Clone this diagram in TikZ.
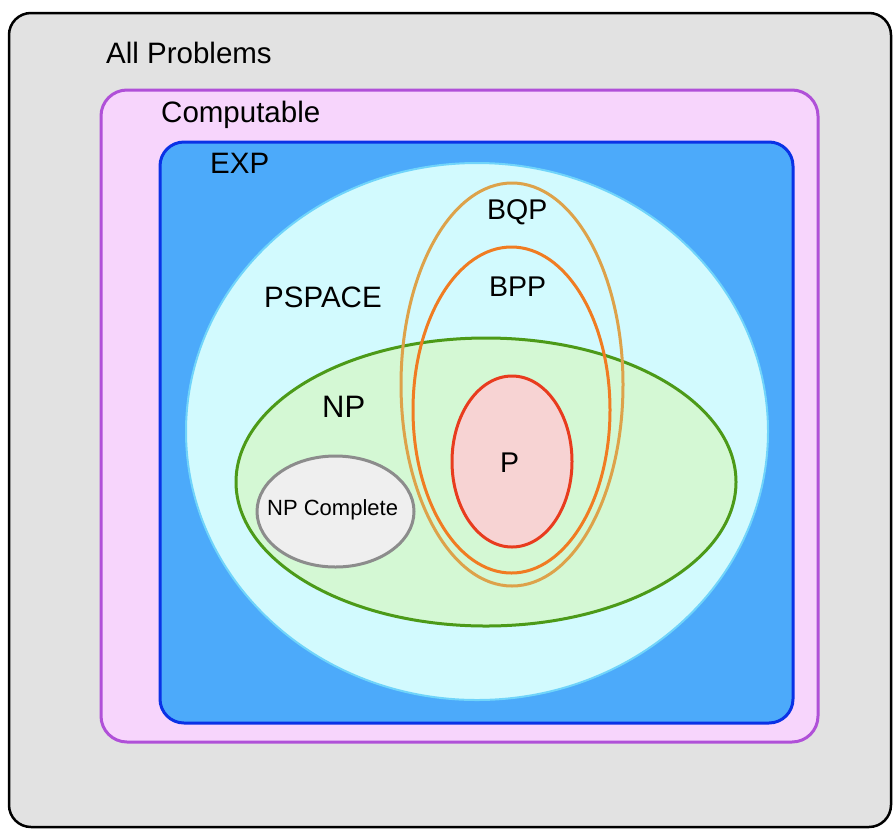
\documentclass[tikz,border=0pt]{standalone}
\usepackage{fontspec}
\setmainfont{Liberation Sans}
\definecolor{allfill}{HTML}{E2E2E2}
\definecolor{compfill}{HTML}{F7D5FC}
\definecolor{compline}{HTML}{B050D8}
\definecolor{expfill}{HTML}{4CAAFA}
\definecolor{expline}{HTML}{0A32E6}
\definecolor{pspfill}{HTML}{D2FAFE}
\definecolor{pspline}{HTML}{70D4FA}
\definecolor{npfill}{HTML}{D4F8D4}
\definecolor{npline}{HTML}{4C9A18}
\definecolor{npcfill}{HTML}{EFEFEF}
\definecolor{npcline}{HTML}{8C8C8C}
\definecolor{pfill}{HTML}{F7D3D3}
\definecolor{pline}{HTML}{E83C1E}
\definecolor{bppline}{HTML}{F07C22}
\definecolor{bqpline}{HTML}{DDA24A}

\begin{document}
\begin{tikzpicture}[x=1pt,y=-1pt,
    txt/.style={anchor=base west,inner sep=0pt,font=\fontsize{29.5}{34}\selectfont},
    zone/.style={line width=3pt}]
  \useasboundingbox (0,0) rectangle (893,828);
  % boxes
  \filldraw[fill=allfill,draw=black,line width=2.5pt,rounded corners=22pt] (9,13) rectangle (891,827);
  \filldraw[zone,fill=compfill,draw=compline,rounded corners=26pt] (101,90) rectangle (818,742);
  \filldraw[zone,fill=expfill,draw=expline,rounded corners=24pt] (160,142) rectangle (793,723);
  % ellipses
  \filldraw[fill=pspfill,draw=pspline,line width=2pt] (477,431.5) ellipse [x radius=291,y radius=268.5];
  \filldraw[zone,fill=npfill,draw=npline] (486,482) ellipse [x radius=250,y radius=144];
  \filldraw[zone,fill=npcfill,draw=npcline] (335.5,511.5) ellipse [x radius=78.5,y radius=55.5];
  \draw[zone,draw=bqpline] (512,384.5) ellipse [x radius=111,y radius=201.5];
  \draw[zone,draw=bppline] (511.5,410) ellipse [x radius=98.5,y radius=163];
  \filldraw[zone,fill=pfill,draw=pline] (512,461.5) ellipse [x radius=60,y radius=85.5];
  % labels
  \node[txt] (allname) at (106,63) {All Problems};
  \node[txt] (compname) at (161,122) {Computable};
  \node[txt] (expname) at (210,173) {EXP};
  \node[txt] (pspname) at (264,307) {PSPACE};
  \node[txt,font=\fontsize{31}{36}\selectfont] (npname) at (322,417) {NP};
  \node[txt,font=\fontsize{28.5}{34}\selectfont] (bqpname) at (487,219) {BQP};
  \node[txt,font=\fontsize{28.5}{34}\selectfont] (bppname) at (489,296) {BPP};
  \node[txt,font=\fontsize{28.5}{34}\selectfont] (pname) at (500,472) {P};
  \node[txt,font=\fontsize{22}{26}\selectfont] (npcname) at (267,515) {NP Complete};
\end{tikzpicture}
\end{document}
